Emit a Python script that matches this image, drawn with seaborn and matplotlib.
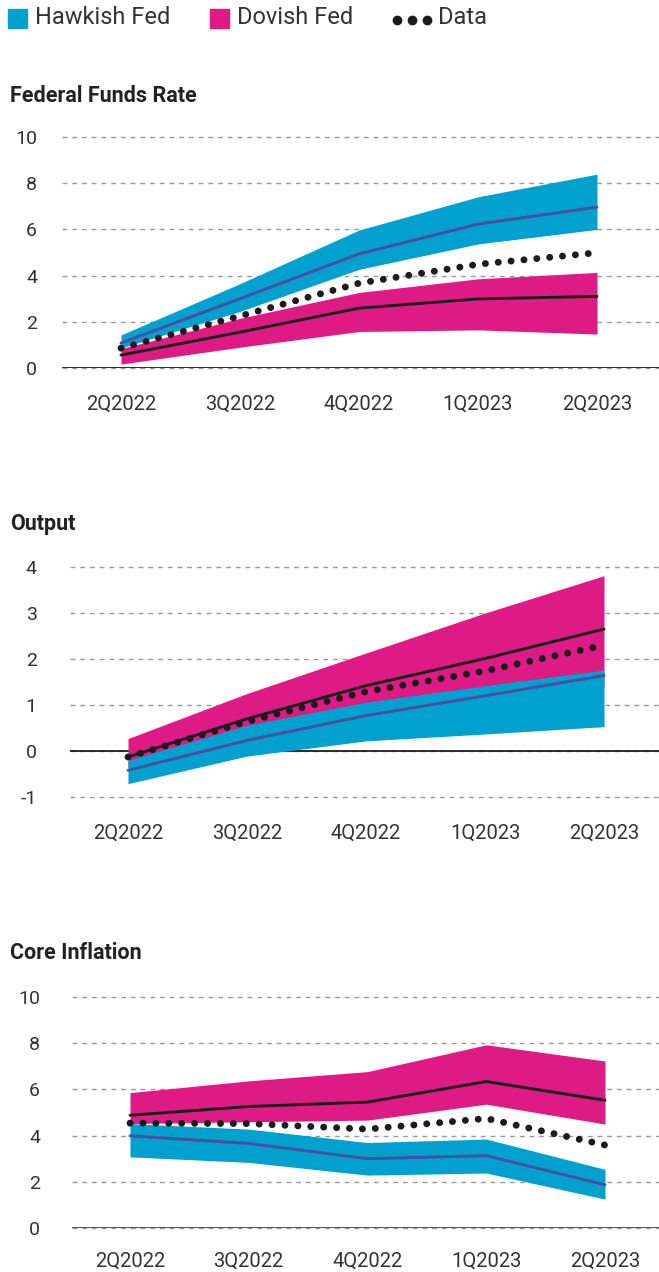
import matplotlib
matplotlib.use("Agg")
import matplotlib.pyplot as plt
from matplotlib.patches import Rectangle
from matplotlib.lines import Line2D
import seaborn as sns
import numpy as np
import pandas as pd

# ---------------- data ----------------
quarters = ["2Q2022", "3Q2022", "4Q2022", "1Q2023", "2Q2023"]

# Federal Funds Rate
hawk_ffr_lo = [0.87, 2.45, 4.27, 5.37, 6.00]
hawk_ffr_mid = [1.08, 3.00, 4.94, 6.23, 6.96]
hawk_ffr_hi = [1.43, 3.65, 5.97, 7.41, 8.39]
dov_ffr_lo = [0.17, 0.90, 1.58, 1.65, 1.47]
dov_ffr_mid = [0.56, 1.55, 2.59, 2.99, 3.10]
dov_ffr_hi = [0.84, 2.15, 3.27, 3.86, 4.14]
data_ffr = [0.86, 2.25, 3.67, 4.49, 4.99]

# Output
hawk_out_lo = [-0.71, -0.11, 0.22, 0.37, 0.53]
hawk_out_mid = [-0.42, 0.23, 0.77, 1.20, 1.64]
hawk_out_hi = [-0.20, 0.56, 1.06, 1.42, 1.76]
dov_out_lo = [-0.35, 0.30, 0.80, 1.10, 1.40]
dov_out_mid = [-0.13, 0.70, 1.42, 2.01, 2.65]
dov_out_hi = [0.27, 1.25, 2.13, 3.00, 3.81]
data_out = [-0.13, 0.64, 1.29, 1.74, 2.30]

# Core Inflation
hawk_inf_lo = [3.08, 2.84, 2.29, 2.38, 1.25]
hawk_inf_mid = [3.99, 3.66, 3.00, 3.13, 1.87]
hawk_inf_hi = [4.52, 4.28, 3.70, 3.85, 2.54]
dov_inf_lo = [4.52, 4.60, 4.67, 5.36, 4.50]
dov_inf_mid = [4.88, 5.26, 5.45, 6.34, 5.53]
dov_inf_hi = [5.86, 6.37, 6.77, 7.93, 7.23]
data_inf = [4.54, 4.52, 4.28, 4.74, 3.59]

titles = ["Federal Funds Rate", "Output", "Core Inflation"]
yticks_ffr = [0, 2, 4, 6, 8, 10]
yticks_out = [-1, 0, 1, 2, 3, 4]
yticks_inf = [0, 2, 4, 6, 8, 10]
legend_labels = ["Hawkish Fed", "Dovish Fed", "Data"]

# ---------------- style ----------------
BLUE = "#00A0CF"
PINK = "#DE1B84"
PURPLE = "#4A4FA3"
BLACK = "#1c1c1c"
GRID = "#9a9a9a"
TXT = "#333333"

sns.set_theme(style="white")
plt.rcParams["font.family"] = ["Roboto", "DejaVu Sans"]

W, H = 659, 1272
fig = plt.figure(figsize=(W / 100, H / 100), dpi=100)


def px_axes(left, top, bottom, right=W):
    return fig.add_axes([left / W, 1 - bottom / H, (right - left) / W, (bottom - top) / H])


panels = [
    dict(left=62, top=137, bottom=368, x0=121, dx=119.0, ylim=(0, 10), yticks=yticks_ffr,
         hawk=(hawk_ffr_lo, hawk_ffr_mid, hawk_ffr_hi),
         dov=(dov_ffr_lo, dov_ffr_mid, dov_ffr_hi), data=data_ffr, title_y=96,
         ypad=18, xpad=19, zero_color=BLACK),
    dict(left=70, top=567, bottom=797, x0=128, dx=119.0, ylim=(-1, 4), yticks=yticks_out,
         hawk=(hawk_out_lo, hawk_out_mid, hawk_out_hi),
         dov=(dov_out_lo, dov_out_mid, dov_out_hi), data=data_out, title_y=524,
         ypad=24, xpad=19, zero_color=BLACK),
    dict(left=72, top=997, bottom=1228, x0=130, dx=118.75, ylim=(0, 10), yticks=yticks_inf,
         hawk=(hawk_inf_lo, hawk_inf_mid, hawk_inf_hi),
         dov=(dov_inf_lo, dov_inf_mid, dov_inf_hi), data=data_inf, title_y=953,
         ypad=23, xpad=17, zero_color="#444444"),
]

xs = np.arange(len(quarters))

for p, title in zip(panels, titles):
    ax = px_axes(p["left"], p["top"], p["bottom"])
    lo_h, mid_h, hi_h = p["hawk"]
    lo_d, mid_d, hi_d = p["dov"]
    df = pd.DataFrame({"x": xs, "mid_h": mid_h, "mid_d": mid_d, "data": p["data"]})

    ax.fill_between(xs, lo_d, hi_d, color=PINK, lw=0, zorder=2)
    ax.fill_between(xs, lo_h, hi_h, color=BLUE, lw=0, zorder=3)
    sns.lineplot(data=df, x="x", y="mid_d", ax=ax, color=BLACK, lw=2.1, zorder=4)
    sns.lineplot(data=df, x="x", y="mid_h", ax=ax, color=PURPLE, lw=2.1, zorder=4)
    sns.lineplot(data=df, x="x", y="data", ax=ax, color=BLACK, lw=5.0,
                 linestyle=(0, (0.01, 1.85)), dash_capstyle="round", zorder=5)

    xl = (p["left"] - p["x0"]) / p["dx"]
    xr = (W - p["x0"]) / p["dx"]
    ax.set_xlim(xl, xr)
    ax.set_ylim(*p["ylim"])
    ax.set_xticks(xs)
    ax.set_xticklabels(quarters)
    ax.set_yticks(p["yticks"])
    ax.set_yticklabels([str(t) for t in p["yticks"]])
    ax.set_xlabel("")
    ax.set_ylabel("")
    for s in ax.spines.values():
        s.set_visible(False)
    ax.grid(axis="y", color=GRID, lw=1.0, linestyle=(0, (3.5, 3.5)))
    ax.grid(axis="x", visible=False)
    for gl in ax.get_ygridlines():
        gl.set_clip_on(False)
    ax.set_axisbelow(True)
    ax.axhline(0, color=p["zero_color"], lw=1.3, zorder=1.5)
    ax.tick_params(axis="y", length=0, pad=p["ypad"], labelsize=14, labelcolor=TXT)
    ax.tick_params(axis="x", length=0, pad=p["xpad"], labelsize=14.5, labelcolor=TXT)
    ax.set_facecolor("none")

    fig.text(10 / W, 1 - p["title_y"] / H, title, ha="left", va="center",
             fontsize=15.5, fontweight="bold", color="#222222")

# ---------------- legend ----------------
def fx(v):
    return v / W


def fy(v):
    return 1 - v / H


fig.add_artist(Rectangle((fx(8), fy(28)), 19 / W, 19 / H, color=BLUE, transform=fig.transFigure))
fig.text(fx(35), fy(18), legend_labels[0], ha="left", va="center", fontsize=17,
         color=TXT)
fig.add_artist(Rectangle((fx(210), fy(28)), 19 / W, 19 / H, color=PINK, transform=fig.transFigure))
fig.text(fx(237), fy(18), legend_labels[1], ha="left", va="center", fontsize=17,
         color=TXT)
fig.add_artist(Line2D([fx(397), fx(412), fx(427)], [fy(20)] * 3, transform=fig.transFigure,
                      linestyle="none", marker="o", markersize=6, color=BLACK))
fig.text(fx(438), fy(18), legend_labels[2], ha="left", va="center", fontsize=17,
         color=TXT)

fig.savefig("out.png", dpi=100, facecolor="white")
